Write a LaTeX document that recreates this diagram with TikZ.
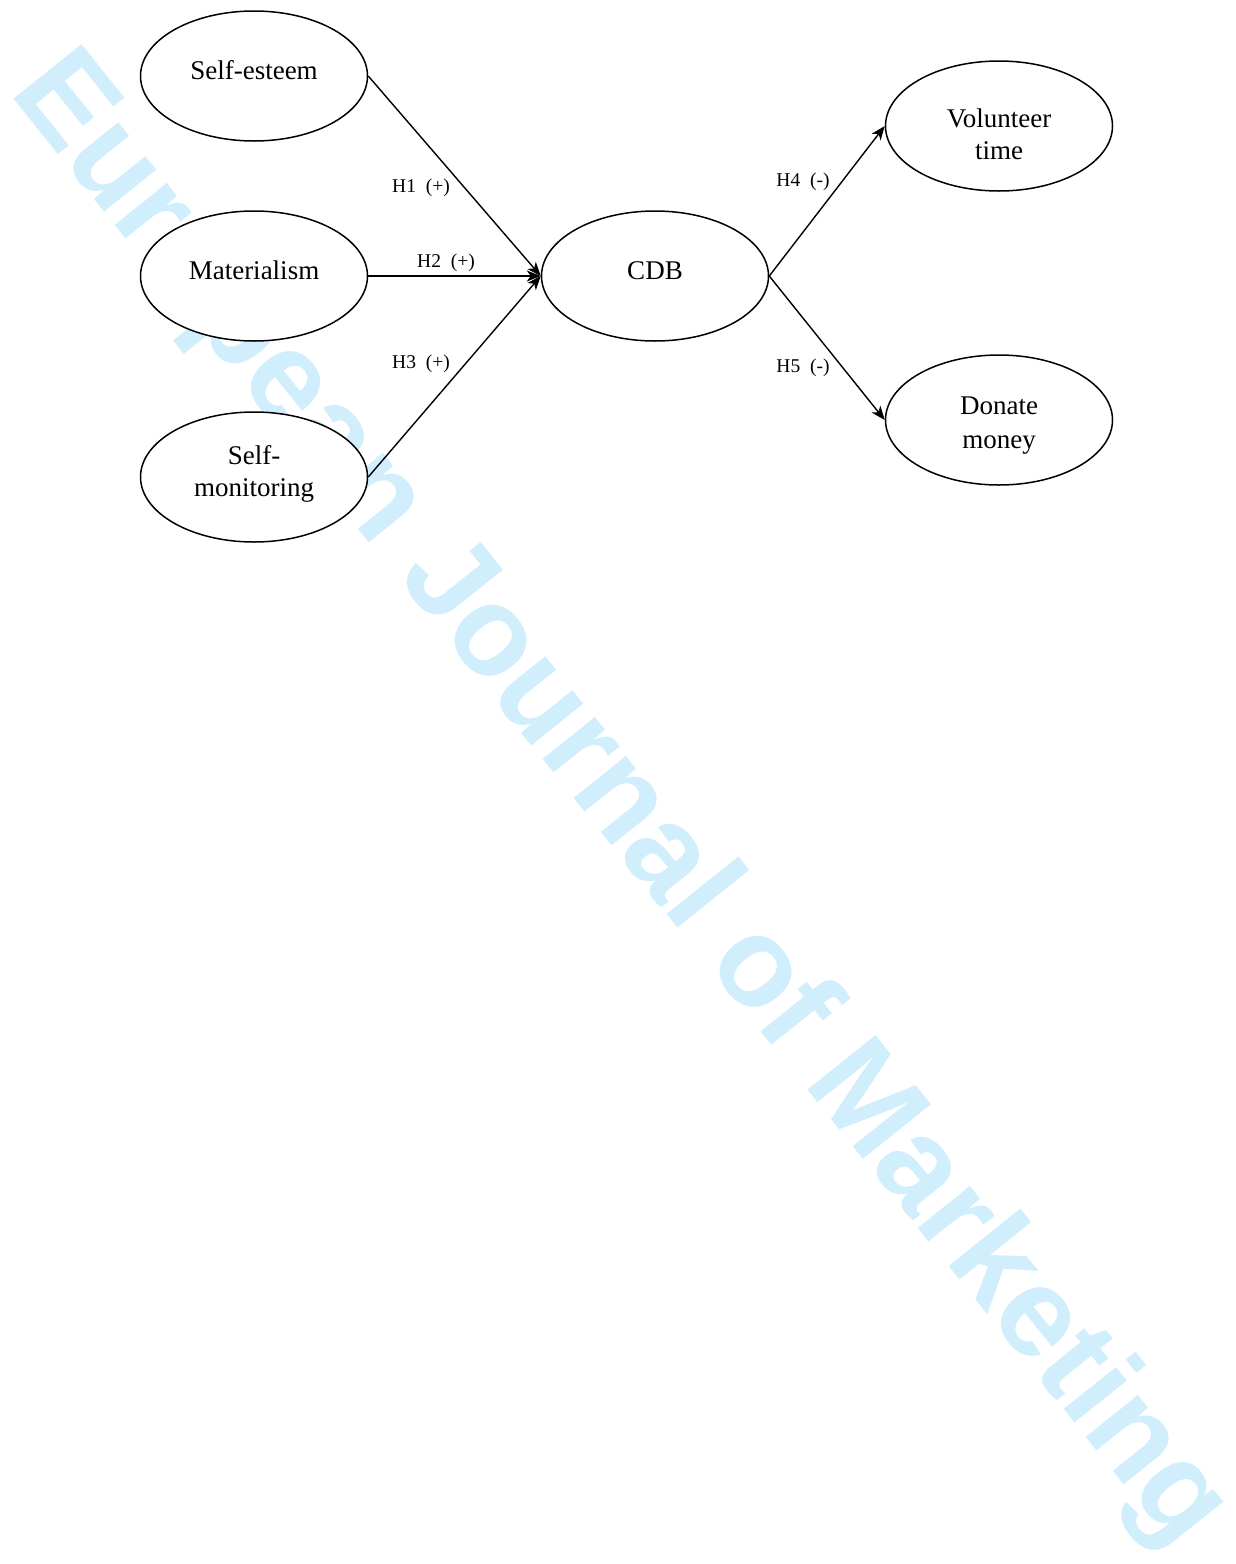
\documentclass[tikz,border=0pt]{standalone}
\usepackage{fontspec}
\setmainfont{Liberation Serif}
\newfontfamily\wmfont{Liberation Sans}
\usetikzlibrary{arrows.meta,positioning,shapes.geometric}
\definecolor{wmblue}{RGB}{209,238,252}

\begin{document}
\begin{tikzpicture}[x=1pt,y=-1pt,
    construct/.style={draw, fill=white, ellipse, line width=1.5pt, minimum width=227pt, minimum height=130pt,
        inner sep=0pt, align=center, font=\fontsize{27}{32}\selectfont},
    oneline/.style={text height=20pt, text depth=14pt},
    hyp/.style={font=\fontsize{19.5}{22}\selectfont},
    link/.style={line width=1.4pt, -{Stealth[length=14pt,width=11pt,inset=4pt]}}]

        \useasboundingbox (0,0) rectangle (1235,1564);

        % watermark
        \node[wmblue, rotate=-51.3, anchor=base west, inner sep=0pt,
              font=\wmfont\bfseries\fontsize{127}{127}\selectfont] (wm) at (8,92) {European Journal of Marketing};

        \node[construct, oneline] (esteem) at (254,76) {Self-esteem};
        \node[construct, oneline] (mater) at (254,276) {Materialism};
        \node[construct] (monit) at (254,477) {Self-\\monitoring\rule[-13pt]{0pt}{0pt}};
        \node[construct, oneline] (cdb) at (655,276) {CDB};
        \node[construct] (volun) at (999,126) {\rule{0pt}{36pt}Volunteer\\time};
        \node[construct] (donate) at (999,420) {\rule{0pt}{29pt}Donate\\[2pt]money};

        \draw[link] (esteem.east) -- (cdb.west);
        \draw[link] (mater.east) -- (cdb.west);
        \draw[link] (monit.east) -- (cdb.west);
        \draw[link] (cdb.east) -- (volun.west);
        \draw[link] (cdb.east) -- (donate.west);

        \node[hyp] (h1) at (421,188) {H1~~(+)};
        \node[hyp] (h2) at (446,263) {H2~~(+)};
        \node[hyp] (h3) at (421,364) {H3~~(+)};
        \node[hyp] (h4) at (803,182) {H4~~(-)};
        \node[hyp] (h5) at (803,368) {H5~~(-)};

\end{tikzpicture}
\end{document}
